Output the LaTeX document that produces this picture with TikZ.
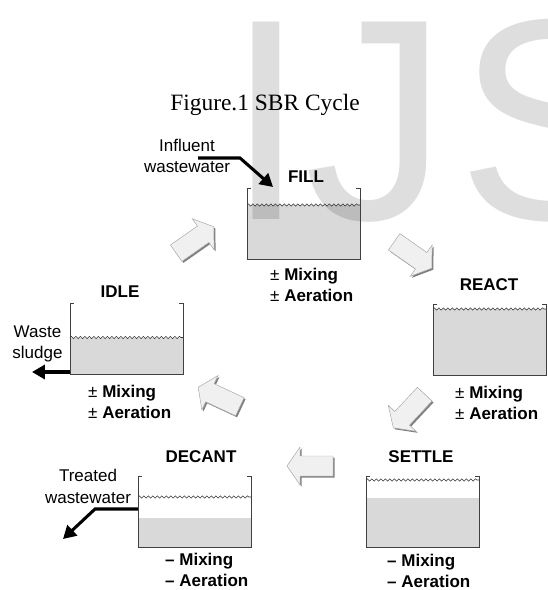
\documentclass[tikz,border=0pt]{standalone}
\usepackage{fontspec}
\setmainfont{Liberation Serif}
\setsansfont{Liberation Sans}
\usepackage{tikz}
\usetikzlibrary{calc,arrows.meta,decorations.pathmorphing}

% one tank: name, centre, depth of the surface and of the liquid below the rim
\newcommand{\sbrtank}[4]{%
  \node[tank] (#1) at #2 {};
  \fill[liquid] ($(#1.north west)+(0,#4)$) rectangle (#1.south east);
  \draw[surface] ($(#1.north west)+(0,#3)$) -- ($(#1.north east)+(0,#3)$);
  \draw[wall] ($(#1.north west)+(4,0)$) -- (#1.north west) -- (#1.south west)
    -- (#1.south east) -- (#1.north east) -- +(-4,0);
}

\tikzset{
  watermark/.style={font=\sffamily\fontsize{245}{245}\selectfont, text=black!13, inner sep=0pt},
  stagelabel/.style={font=\sffamily\bfseries\fontsize{14.5}{18}\selectfont, inner sep=0pt},
  modelabel/.style={font=\sffamily\bfseries\fontsize{14.5}{18}\selectfont,
    align=left, anchor=west, inner sep=0pt},
  flowlabel/.style={font=\sffamily\fontsize{14.5}{18.5}\selectfont, align=center, inner sep=0pt},
  tank/.style={minimum width=3.39cm, minimum height=2.13cm, inner sep=0pt, outer sep=0pt},
  wall/.style={draw=black!75, line width=0.6pt},
  liquid/.style={fill=black, fill opacity=0.15},
  surface/.style={draw=black!80, line width=0.5pt, decorate,
    decoration={snake, segment length=0.135cm, amplitude=0.035cm}},
  flow/.style={line width=2.6pt, -{Triangle[length=11pt,width=12pt]}},
  stagearrow/.pic={
    \fill[black!50, shift={(1.5,1.5)}, rotate=#1]
      (-23,-10) -- (10,-10) -- (10,-19) -- (23,0) -- (10,19) -- (10,10) -- (-23,10) -- cycle;
    \filldraw[fill=black!6, draw=black!35, line width=0.4pt, rotate=#1]
      (-23,-10) -- (10,-10) -- (10,-19) -- (23,0) -- (10,19) -- (10,10) -- (-23,10) -- cycle;
  }
}

\begin{document}
\begin{tikzpicture}[x=0.03cm, y=-0.03cm]
  \useasboundingbox (0,0) rectangle (547,590);
  \clip (0,0) rectangle (547,590);

  % Letters in the background
  \node[watermark, anchor=base] (markI) at (266.5,219) {I};
  \node[watermark, anchor=base east] (markJ) at (448,219) {J};
  \node[watermark, anchor=base west] (markS) at (457,219) {S};

  \node[font=\fontsize{20}{24}\selectfont, inner sep=0pt] (title) at (265,105) {Figure.1 SBR Cycle};

  % Tanks
  \sbrtank{filltank}{(303.5,223.5)}{17}{17}
  \sbrtank{reacttank}{(489.5,339.5)}{5}{5}
  \sbrtank{settletank}{(422.5,511.5)}{4}{22}
  \sbrtank{decanttank}{(194.5,511.5)}{21}{42}
  \sbrtank{idletank}{(126.5,339)}{34}{34}

  % Stage names
  \node[stagelabel] (fill) at (306,177) {FILL};
  \node[stagelabel] (react) at (489,285) {REACT};
  \node[stagelabel] (settle) at (421,457) {SETTLE};
  \node[stagelabel] (decant) at (201,457) {DECANT};
  \node[stagelabel] (idle) at (120,292) {IDLE};

  % Mixing and aeration
  \node[modelabel] (fillmode) at (270,285) {{\mdseries ±} Mixing\\{\mdseries ±} Aeration};
  \node[modelabel] (reactmode) at (455,402.5) {{\mdseries ±} Mixing\\{\mdseries ±} Aeration};
  \node[modelabel] (settlemode) at (387,570.5) {– Mixing\\– Aeration};
  \node[modelabel] (decantmode) at (165,570) {– Mixing\\– Aeration};
  \node[modelabel] (idlemode) at (88,401.5) {{\mdseries ±} Mixing\\{\mdseries ±} Aeration};

  % Flows in and out
  \node[flowlabel] (influent) at (187,156) {Influent\\wastewater};
  \node[flowlabel] (sludge) at (37.5,344) {Waste\\sludge};
  \node[flowlabel] (treated) at (88,486.5) {Treated\\wastewater};

  \coordinate (feed) at (198,158);
  \coordinate (inlet) at (273,187);
  \coordinate (sludgeout) at (32,372);
  \coordinate (treatedout) at (63,539);

  \draw[flow] (feed) -- ++(42,0) -- (inlet);
  \draw[flow] (idletank.west |- sludgeout) -- (sludgeout);
  \draw[flow] ($(decanttank.south west)+(0,-38)$) -- ++(-43,0) -- (treatedout);

  % Cycle arrows
  \pic at (195,240) {stagearrow=35};
  \pic at (413,255) {stagearrow=-35};
  \pic at (409,411) {stagearrow=-133};
  \pic at (310,466) {stagearrow=180};
  \pic at (219,397) {stagearrow=155};
\end{tikzpicture}
\end{document}
